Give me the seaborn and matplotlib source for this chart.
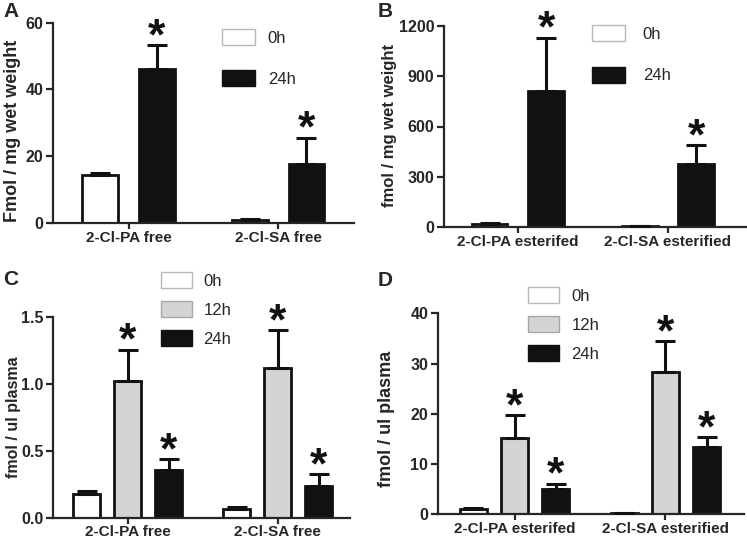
import matplotlib
matplotlib.use("Agg")
import matplotlib.pyplot as plt
from matplotlib.patches import Patch
import seaborn as sns
import pandas as pd

# ---------------- data ----------------
cats_A = ["2-Cl-PA free", "2-Cl-SA free"]
hues_AB = ["0h", "24h"]
mean_A = {"0h": [14.3, 0.8], "24h": [46.0, 17.6]}
err_A = {"0h": [0.6, 0.3], "24h": [7.3, 8.0]}
sig_A = {"0h": [False, False], "24h": [True, True]}
yticks_A = [0, 20, 40, 60]

cats_B = ["2-Cl-PA esterifed", "2-Cl-SA esterified"]
mean_B = {"0h": [18, 5], "24h": [810, 375]}
err_B = {"0h": [3, 1], "24h": [320, 112]}
sig_B = {"0h": [False, False], "24h": [True, True]}
yticks_B = [0, 300, 600, 900, 1200]

cats_C = ["2-Cl-PA free", "2-Cl-SA free"]
hues_CD = ["0h", "12h", "24h"]
mean_C = {"0h": [0.175, 0.068], "12h": [1.02, 1.12], "24h": [0.355, 0.233]}
err_C = {"0h": [0.022, 0.01], "12h": [0.235, 0.28], "24h": [0.08, 0.09]}
sig_C = {"0h": [False, False], "12h": [True, True], "24h": [True, True]}
yticks_C = [0.0, 0.5, 1.0, 1.5]

cats_D = ["2-Cl-PA esterifed", "2-Cl-SA esterified"]
mean_D = {"0h": [1.1, 0.25], "12h": [15.2, 28.3], "24h": [5.1, 13.4]}
err_D = {"0h": [0.2, 0.05], "12h": [4.5, 6.2], "24h": [1.0, 2.0]}
sig_D = {"0h": [False, False], "12h": [True, True], "24h": [True, True]}
yticks_D = [0, 10, 20, 30, 40]

colors = {"0h": "#ffffff", "12h": "#d4d4d4", "24h": "#111111"}
legend_edges = {"0h": "#b8b8b8", "12h": "#a8a8a8", "24h": "#111111"}

# ---------------- style ----------------
sns.set_style("ticks")
plt.rcParams["font.family"] = ["Liberation Sans", "DejaVu Sans"]
plt.rcParams["axes.linewidth"] = 1.6

W, H = 747, 540
fig = plt.figure(figsize=(W / 100, H / 100), dpi=100)


def px_axes(left, right, top, bottom):
    return fig.add_axes([left / W, 1 - bottom / H, (right - left) / W, (bottom - top) / H])


def panel(ax, cats, hues, means, errs, sigs, yticks, ylabel, xlim, width, gap,
          letter, letter_xy, leg_xy, leg_spacing, leg_pad, leg_hlen, ylab_xy, ylab_fs):
    rows = []
    for h in hues:
        for c, v in zip(cats, means[h]):
            rows.append({"cat": c, "hue": h, "val": v})
    df = pd.DataFrame(rows)
    sns.barplot(data=df, x="cat", y="val", hue="hue", order=cats, hue_order=hues,
                palette=colors, width=width, gap=gap, errorbar=None,
                edgecolor="#111111", linewidth=2.0, saturation=1, legend=False, ax=ax)
    ymax = yticks[-1]
    for i, h in enumerate(hues):
        cont = ax.containers[i]
        xs = [b.get_x() + b.get_width() / 2 for b in cont]
        ax.errorbar(xs, means[h], yerr=[[0] * len(xs), errs[h]], fmt="none",
                    ecolor="#111111", elinewidth=2.2, capsize=7, capthick=2.2, zorder=3)
        for x, m, e, s in zip(xs, means[h], errs[h], sigs[h]):
            if s:
                ax.annotate("*", xy=(x, m + e), xytext=(0, -3), textcoords="offset points",
                            ha="center", va="baseline", fontsize=32, fontweight="bold",
                            color="#111111", annotation_clip=False)
    ax.set_ylim(0, ymax)
    ax.set_yticks(yticks)
    if isinstance(yticks[0], float):
        ax.set_yticklabels([f"{t:.1f}" for t in yticks])
    ax.set_xlim(*xlim)
    ax.set_xlabel("")
    ax.set_ylabel(ylabel, fontsize=ylab_fs, fontweight="bold")
    ax.yaxis.set_label_coords(ylab_xy[0] / W, 1 - ylab_xy[1] / H, transform=fig.transFigure)
    sns.despine(ax=ax)
    ax.tick_params(axis="y", length=5, width=1.6, labelsize=11.5, pad=2)
    ax.tick_params(axis="x", length=4, width=1.6, labelsize=11, pad=1.5)
    for lab in ax.get_xticklabels() + ax.get_yticklabels():
        lab.set_fontweight("bold")
    fig.text(letter_xy[0] / W, 1 - letter_xy[1] / H, letter, fontsize=15,
             fontweight="bold", ha="left", va="top")
    handles = [Patch(facecolor=colors[h], edgecolor=legend_edges[h], linewidth=1.0) for h in hues]
    ax.legend(handles, hues, loc="upper left", bbox_to_anchor=(leg_xy[0] / W, 1 - leg_xy[1] / H),
              bbox_transform=fig.transFigure, frameon=False, fontsize=12,
              handlelength=leg_hlen, handleheight=1.1, labelspacing=leg_spacing,
              handletextpad=leg_pad, borderpad=0, borderaxespad=0)


axA = px_axes(53, 354, 22.7, 223)
panel(axA, cats_A, hues_AB, mean_A, err_A, sig_A, yticks_A, "Fmol / mg wet weight",
      (-0.505, 1.508), 0.76, 0.37, "A", (3, 2), (222, 29), 1.45, 0.75, 2.0, (21, 131), 13)

axB = px_axes(444, 746, 26, 227)
panel(axB, cats_B, hues_AB, mean_B, err_B, sig_B, yticks_B, "fmol / mg wet weight",
      (-0.493, 1.52), 0.754, 0.37, "B", (378, 2), (592, 25), 1.5, 1.05, 2.0, (397, 125), 12)

axC = px_axes(53, 350, 316.7, 517.7)
panel(axC, cats_C, hues_CD, mean_C, err_C, sig_C, yticks_C, "fmol / ul plasma",
      (-0.497, 1.483), 0.82, 0.34, "C", (3, 270), (161, 272), 0.75, 0.7, 1.85, (21, 417), 11.5)

axD = px_axes(438, 744, 313.3, 514.3)
panel(axD, cats_D, hues_CD, mean_D, err_D, sig_D, yticks_D, "fmol / ul plasma",
      (-0.507, 1.52), 0.82, 0.34, "D", (378, 271), (528, 287), 0.75, 0.75, 1.85, (395, 419), 13)

fig.savefig("out.png", dpi=100)
